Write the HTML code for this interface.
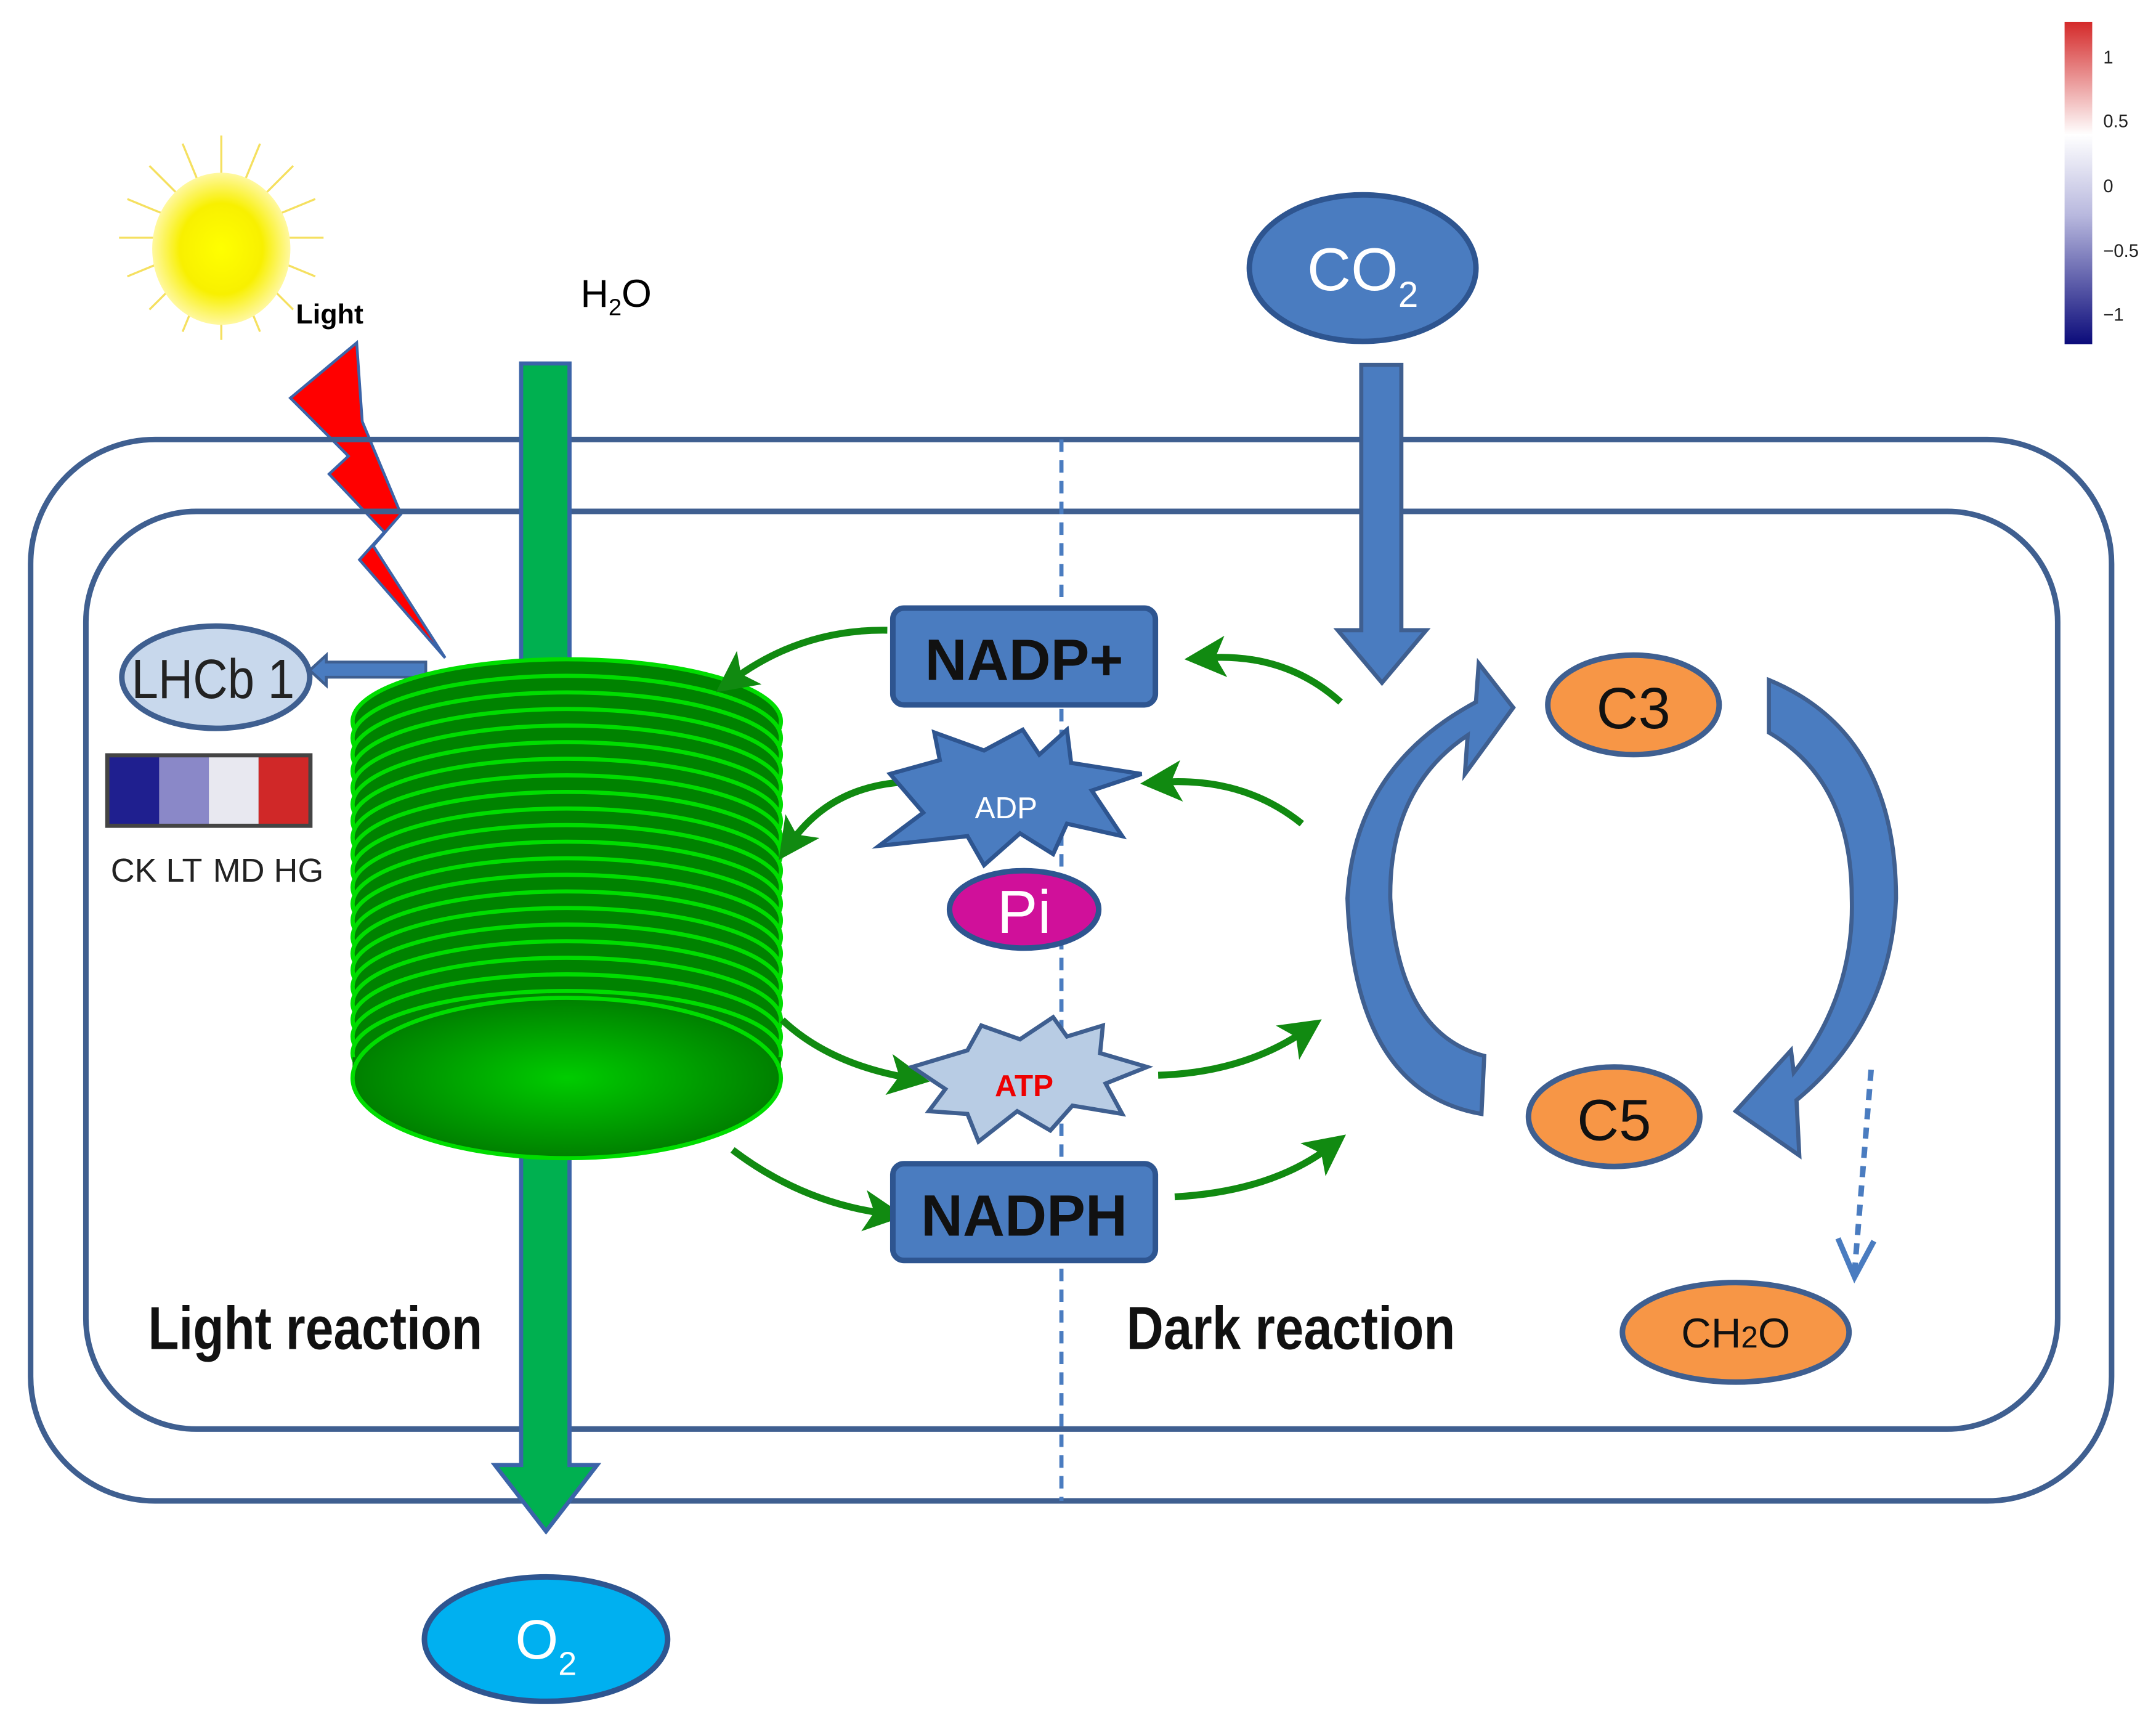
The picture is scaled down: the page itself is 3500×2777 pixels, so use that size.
<!DOCTYPE html>
<html><head><meta charset="utf-8"><style>html,body{margin:0;padding:0;background:#fff}svg{display:block}</style></head><body>
<svg xmlns="http://www.w3.org/2000/svg" width="3500" height="2777" viewBox="0 0 1560 1238" font-family="Liberation Sans, sans-serif">
<defs>
<linearGradient id="cb" x1="0" y1="0" x2="0" y2="1">
<stop offset="0" stop-color="#d42a2a"/><stop offset="0.35" stop-color="#fff"/><stop offset="0.6" stop-color="#b8b8de"/><stop offset="1" stop-color="#0b0b7a"/></linearGradient>
<radialGradient id="sun"><stop offset="0" stop-color="#ffff00"/><stop offset="0.6" stop-color="#f8f000"/><stop offset="1" stop-color="#fff8a0"/></radialGradient>
<radialGradient id="disc" cx="0.5" cy="0.5" r="0.6"><stop offset="0" stop-color="#00cc00"/><stop offset="1" stop-color="#007000"/></radialGradient>
<marker id="ga" markerWidth="6" markerHeight="6" refX="3" refY="3" orient="auto" markerUnits="strokeWidth"><path d="M0,0 L6,3 L0,6 L1.5,3z" fill="#118a11"/></marker>
</defs>
<rect x="1494" y="16" width="20" height="233" fill="url(#cb)"/>
<g font-size="13" fill="#222"><text x="1522" y="46">1</text><text x="1522" y="92">0.5</text><text x="1522" y="139">0</text><text x="1522" y="186">−0.5</text><text x="1522" y="232">−1</text></g>
<g stroke="#f5e060" stroke-width="1.5">
<line x1="160" y1="98" x2="160" y2="246"/><line x1="86" y1="172" x2="234" y2="172"/><line x1="108" y1="120" x2="212" y2="224"/><line x1="212" y1="120" x2="108" y2="224"/>
<line x1="132" y1="104" x2="188" y2="240"/><line x1="188" y1="104" x2="132" y2="240"/><line x1="92" y1="144" x2="228" y2="200"/><line x1="92" y1="200" x2="228" y2="144"/></g>
<ellipse cx="160" cy="180" rx="50" ry="55" fill="url(#sun)"/>
<text x="214" y="234" font-size="20" font-weight="bold">Light</text>
<path d="M210,288 L258,248 L262,305 L290,372 L270,395 L322,476 L260,405 L278,385 L238,343 L252,330z" fill="#ff0000" stroke="#3b64a8" stroke-width="2"/>
<rect x="22" y="318" width="1506" height="768" rx="90" fill="none" stroke="#3f5f90" stroke-width="4"/>
<rect x="62" y="370" width="1427" height="664" rx="80" fill="none" stroke="#3f5f90" stroke-width="4"/>
<line x1="768" y1="318" x2="768" y2="1086" stroke="#4a7cc0" stroke-width="3" stroke-dasharray="9,6"/>
<text x="420" y="222" font-size="28">H<tspan font-size="17" dy="6">2</tspan><tspan dy="-6">O</tspan></text>
<path d="M377,263 L412,263 L412,1060 L432,1060 L395,1108 L358,1060 L377,1060z" fill="#00b050" stroke="#3b64a8" stroke-width="3"/>
<ellipse cx="395" cy="1186" rx="88" ry="45" fill="#00b0f0" stroke="#2e5590" stroke-width="4"/>
<text x="395" y="1200" font-size="40" text-anchor="middle" fill="#fff">O<tspan font-size="24" dy="12">2</tspan></text>
<ellipse cx="156" cy="490" rx="68" ry="37" fill="#c8d8ec" stroke="#3f5f90" stroke-width="4"/>
<text x="154" y="505" font-size="40" text-anchor="middle" fill="#222" textLength="118" lengthAdjust="spacingAndGlyphs">LHCb 1</text>
<path d="M308,479 L236,479 L236,474 L224,485 L236,496 L236,490 L308,490z" fill="#4a7cc0" stroke="#3f5f90" stroke-width="2"/>
<rect x="76" y="545" width="150" height="54" fill="#444"/>
<rect x="79" y="548" width="36" height="48" fill="#1f1f8f"/><rect x="115" y="548" width="36" height="48" fill="#8a88c8"/><rect x="151" y="548" width="36" height="48" fill="#e8e8f0"/><rect x="187" y="548" width="36" height="48" fill="#d02828"/>
<g font-size="24" fill="#222"><text x="80" y="638">CK</text><text x="120" y="638">LT</text><text x="154" y="638">MD</text><text x="198" y="638">HG</text></g>
<g stroke="#00dd00" stroke-width="3" fill="#008200">
<ellipse cx="410" cy="522" rx="155" ry="45"/><ellipse cx="410" cy="534" rx="155" ry="45"/><ellipse cx="410" cy="546" rx="155" ry="45"/><ellipse cx="410" cy="558" rx="155" ry="45"/><ellipse cx="410" cy="570" rx="155" ry="45"/><ellipse cx="410" cy="582" rx="155" ry="45"/><ellipse cx="410" cy="594" rx="155" ry="45"/><ellipse cx="410" cy="606" rx="155" ry="45"/><ellipse cx="410" cy="618" rx="155" ry="45"/><ellipse cx="410" cy="630" rx="155" ry="45"/><ellipse cx="410" cy="642" rx="155" ry="45"/><ellipse cx="410" cy="654" rx="155" ry="45"/><ellipse cx="410" cy="666" rx="155" ry="45"/><ellipse cx="410" cy="678" rx="155" ry="45"/><ellipse cx="410" cy="690" rx="155" ry="45"/><ellipse cx="410" cy="702" rx="155" ry="45"/><ellipse cx="410" cy="714" rx="155" ry="45"/><ellipse cx="410" cy="726" rx="155" ry="45"/><ellipse cx="410" cy="738" rx="155" ry="45"/><ellipse cx="410" cy="750" rx="155" ry="45"/><ellipse cx="410" cy="762" rx="155" ry="45"/>
<path d="M255,765 L255,780 A155,58 0 0 0 565,780 L565,765z" fill="#008200" stroke="none"/>
<ellipse cx="410" cy="780" rx="155" ry="58" fill="url(#disc)"/>
</g>
<g fill="none" stroke="#118a11" stroke-width="5" marker-end="url(#ga)">
<path d="M642,456 Q580,455 530,492"/>
<path d="M652,566 Q600,570 572,610"/>
<path d="M566,738 Q600,770 658,780"/>
<path d="M530,832 Q580,870 640,878"/>
<path d="M970,508 Q930,472 872,476"/>
<path d="M942,596 Q900,562 840,566"/>
<path d="M838,778 Q900,776 944,746"/>
<path d="M850,866 Q920,862 962,830"/>
</g>
<rect x="646" y="440" width="190" height="70" rx="8" fill="#4a7cc0" stroke="#2e5590" stroke-width="4"/>
<text x="741" y="492" font-size="42" font-weight="bold" text-anchor="middle" fill="#111">NADP+</text>
<rect x="646" y="842" width="190" height="70" rx="8" fill="#4a7cc0" stroke="#2e5590" stroke-width="4"/>
<text x="741" y="894" font-size="42" font-weight="bold" text-anchor="middle" fill="#111">NADPH</text>
<path d="M644,560 L680,550 L676,530 L712,543 L740,528 L752,546 L772,528 L775,552 L826,560 L790,572 L812,605 L772,596 L762,618 L738,603 L712,626 L700,605 L636,612 L668,588z" fill="#4a7cc0" stroke="#2e5590" stroke-width="3"/>
<text x="728" y="592" font-size="22" text-anchor="middle" fill="#fff">ADP</text>
<ellipse cx="741" cy="658" rx="54" ry="28" fill="#d0109a" stroke="#2e5590" stroke-width="4"/>
<text x="741" y="675" font-size="44" text-anchor="middle" fill="#fff">Pi</text>
<path d="M660,772 L700,760 L710,742 L738,752 L762,736 L772,750 L798,742 L796,762 L830,772 L800,784 L812,806 L776,800 L760,818 L736,804 L708,826 L700,806 L672,804 L684,788z" fill="#b8cce4" stroke="#3f5f90" stroke-width="3"/>
<text x="741" y="793" font-size="22" font-weight="bold" text-anchor="middle" fill="#e00">ATP</text>
<ellipse cx="986" cy="194" rx="82" ry="53" fill="#4a7cc0" stroke="#2e5590" stroke-width="4"/>
<text x="986" y="210" font-size="44" text-anchor="middle" fill="#fff">CO<tspan font-size="26" dy="12">2</tspan></text>
<path d="M985,264 L1014,264 L1014,456 L1032,456 L1000,494 L968,456 L985,456z" fill="#4a7cc0" stroke="#3f5f90" stroke-width="3"/>
<path d="M1072,806 Q980,790 975,650 Q980,555 1068,508 L1070,480 L1095,512 L1060,560 L1062,532 Q1005,570 1006,650 Q1012,748 1074,764z" fill="#4a7cc0" stroke="#3f5f90" stroke-width="3"/>
<path d="M1280,492 Q1372,530 1372,650 Q1368,740 1300,796 L1302,836 L1256,804 L1296,760 L1298,776 Q1342,720 1340,650 Q1340,565 1280,530z" fill="#4a7cc0" stroke="#3f5f90" stroke-width="3"/>
<path d="M1354,774 L1342,920" stroke="#4a7cc0" stroke-width="4" stroke-dasharray="8,6" fill="none"/>
<path d="M1330,896 L1342,924 L1356,898" stroke="#4a7cc0" stroke-width="4" fill="none"/>
<ellipse cx="1182" cy="510" rx="62" ry="36" fill="#f79646" stroke="#3f5f90" stroke-width="4"/>
<text x="1182" y="527" font-size="42" text-anchor="middle" fill="#111">C3</text>
<ellipse cx="1168" cy="808" rx="62" ry="36" fill="#f79646" stroke="#3f5f90" stroke-width="4"/>
<text x="1168" y="825" font-size="42" text-anchor="middle" fill="#111">C5</text>
<ellipse cx="1256" cy="964" rx="82" ry="36" fill="#f79646" stroke="#3f5f90" stroke-width="4"/>
<text x="1256" y="975" font-size="30" text-anchor="middle" fill="#111">CH<tspan font-size="22">2</tspan>O</text>
<text x="228" y="976" font-size="44" font-weight="bold" text-anchor="middle" fill="#111" textLength="242" lengthAdjust="spacingAndGlyphs">Light reaction</text>
<text x="934" y="976" font-size="44" font-weight="bold" text-anchor="middle" fill="#111" textLength="238" lengthAdjust="spacingAndGlyphs">Dark reaction</text>
</svg>
</body></html>
